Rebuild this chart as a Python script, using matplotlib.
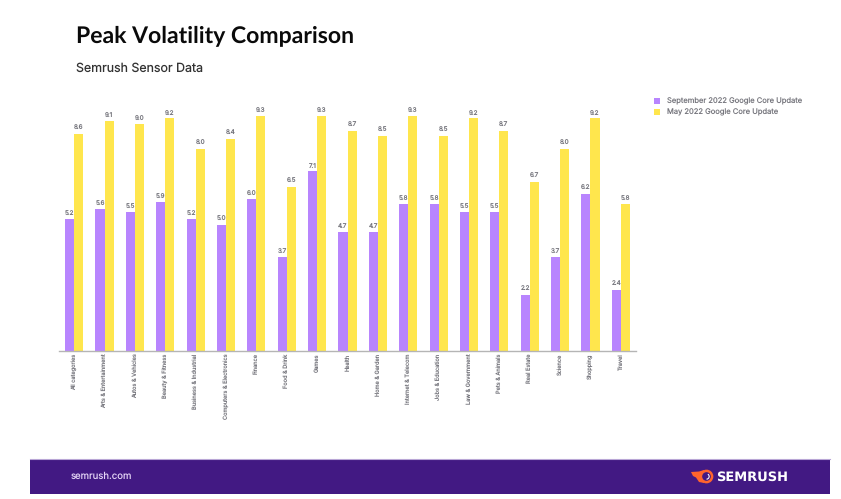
import matplotlib
matplotlib.use("Agg")
import matplotlib.pyplot as plt
import numpy as np
from matplotlib.patches import Rectangle, Circle, Wedge, Polygon

categories = ["All categories", "Arts & Entertainment", "Autos & Vehicles", "Beauty & Fitness",
              "Business & Industrial", "Computers & Electronics", "Finance", "Food & Drink", "Games",
              "Health", "Home & Garden", "Internet & Telecom", "Jobs & Education", "Law & Government",
              "Pets & Animals", "Real Estate", "Science", "Shopping", "Travel"]
sep_2022 = [5.2, 5.6, 5.5, 5.9, 5.2, 5.0, 6.0, 3.7, 7.1, 4.7, 4.7, 5.8, 5.8, 5.5, 5.5, 2.2, 3.7, 6.2, 2.4]
may_2022 = [8.6, 9.1, 9.0, 9.2, 8.0, 8.4, 9.3, 6.5, 9.3, 8.7, 8.5, 9.3, 8.5, 9.2, 8.7, 6.7, 8.0, 9.2, 5.8]
series_names = ["September 2022 Google Core Update", "May 2022 Google Core Update"]

W, H = 841, 499
PURPLE, YELLOW, DARK, GREY = "#B885FE", "#FFE64D", "#0A0A0A", "#77777E"
FOOT = "#421983"
plt.rcParams["font.family"] = ["Inter", "DejaVu Sans"]
plt.rcParams["text.hinting"] = "no_hinting"
plt.rcParams["text.hinting_factor"] = 1

fig = plt.figure(figsize=(W / 100, H / 100), dpi=100, facecolor="white")
bg = fig.add_axes([0, 0, 1, 1])
bg.set_xlim(0, W); bg.set_ylim(H, 0); bg.axis("off")

# footer band
bg.add_patch(Rectangle((30, 459), 800, 35, fc=FOOT, ec="none"))
bg.plot([30, 830], [458.6, 458.6], color="#B9A6D6", lw=0.8)
bg.text(71, 476.5, "semrush.com", color="#E3D3F5", fontsize=6.9, va="center", ha="left")

# logo
ORANGE = "#FF642D"
bg.add_patch(Polygon([(691, 472), (699, 471.5), (704, 470), (704, 483), (699, 482), (696, 477.5), (693, 476)],
                     fc=ORANGE, ec="none"))
bg.add_patch(Circle((706.5, 476.5), 5.6, fc=FOOT, ec=ORANGE, lw=1.8))
bg.add_patch(Wedge((706.5, 476.5), 3.2, 300, 90, width=1.1, fc="white", ec="none"))
bg.text(716, 477, "SEMRUSH", color="white", fontsize=9.3, fontweight="bold", va="center", ha="left",
        family="DejaVu Sans")

# titles
fig.text(76 / W, 1 - 35.5 / H, "Peak Volatility Comparison", fontsize=16.4, fontweight="bold", color=DARK,
         va="center", ha="left", family="Lato")
fig.text(76.5 / W, 1 - 68 / H, "Semrush Sensor Data", fontsize=8.95, color="#333333", va="center", ha="left")

# chart
L, R, T, B = 59, 636, 98.3, 350.7
ax = fig.add_axes([L / W, 1 - B / H, (R - L) / W, (B - T) / H])
ax.patch.set_alpha(0)
x = np.arange(len(categories))
w = 9.1 / 30.4
b1 = ax.bar(x - w / 2, sep_2022, w, color=PURPLE, label=series_names[0])
b2 = ax.bar(x + w / 2, may_2022, w, color=YELLOW, label=series_names[1])
for bars, vals in ((b1, sep_2022), (b2, may_2022)):
    for r, v in zip(bars, vals):
        ax.annotate(f"{v:.1f}", (r.get_x() + r.get_width() / 2, v), xytext=(0, 1.8), textcoords="offset points",
                    ha="center", va="bottom", fontsize=4.5, color=GREY)
ax.set_xlim(-0.5, len(categories) - 0.5)
ax.set_ylim(0, 10)
ax.set_yticks([])
ax.set_xticks(x)
ax.set_xticklabels(categories, rotation=90, fontsize=4.05, color=GREY, ha="center", va="top")
ax.tick_params(axis="x", length=0, pad=2.0)
for s in ("top", "left", "right"):
    ax.spines[s].set_visible(False)
ax.spines["bottom"].set_color("#B5B5B5")
ax.spines["bottom"].set_linewidth(1)

# legend
for y, c, name in zip((100.7, 112), (PURPLE, YELLOW), series_names):
    bg.add_patch(Rectangle((654.4, y - 2.9), 5.8, 5.8, fc=c, ec="none"))
    bg.text(667, y + 0.3, name, fontsize=5.45, color=GREY, va="center", ha="left")

fig.savefig("out.png", dpi=100)
